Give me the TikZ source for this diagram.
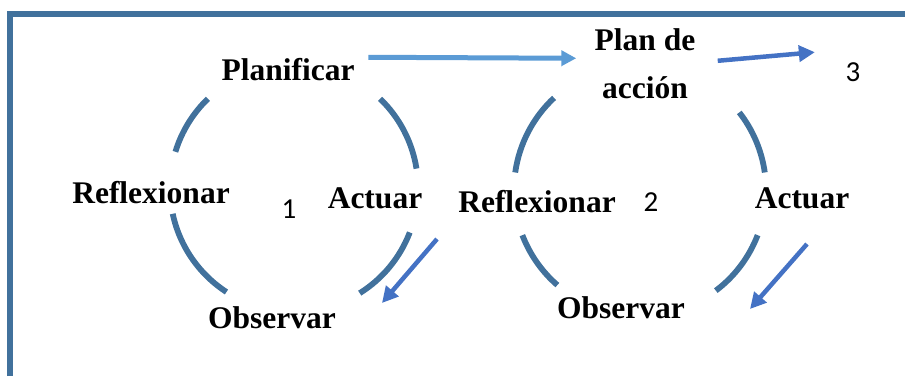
\documentclass[tikz,border=0pt]{standalone}
\usepackage{fontspec}
\setmainfont{Liberation Serif}
\newfontfamily\numfont{Carlito}
\usetikzlibrary{arrows.meta}
\definecolor{frameblue}{RGB}{65,113,156}
\definecolor{lightblue}{RGB}{91,155,213}
\definecolor{arrowblue}{RGB}{68,114,196}

\begin{document}
\begin{tikzpicture}[
    x=0.5pt, y=0.5pt,
    stage/.style={inner sep=0pt, anchor=base, align=center, font=\fontsize{15.75}{24}\selectfont\bfseries},
    num/.style={inner sep=0pt, anchor=base, font=\fontsize{14.5}{16}\selectfont\numfont},
    ring/.style={frameblue, line width=2.9pt},
    frame/.style={frameblue, line width=2.75pt},
    arrowL/.style={-{Triangle[length=7.5pt,width=7.5pt]}, line width=2.5pt, lightblue},
    arrow/.style={-{Triangle[length=8pt,width=8pt]}, line width=2.25pt, arrowblue}
]
    \useasboundingbox (0,0) rectangle (905,376);

    % Frame (top and left sides)
    \draw[frame] (9.8,0) |- (905,362.2);

    % Cycle 1
    \coordinate (o1) at (294,188);
    \foreach \a/\b in {134/163, 9/46, 192/237, 302/339} {
        \draw[ring] ([shift={(\a:124)}]o1) arc[start angle=\a, end angle=\b, radius=124];
    }

    % Cycle 2
    \coordinate (o2) at (640,186);
    \foreach \a/\b in {133/172, 8/38, 201/229, 307/339} {
        \draw[ring] ([shift={(\a:126)}]o2) arc[start angle=\a, end angle=\b, radius=126];
    }

    % Stages of cycle 1
    \node[stage] (planif) at (288,296) {Planificar};
    \node[stage] (refl1) at (151,173) {Reflexionar};
    \node[stage] (actuar1) at (375,168) {Actuar};
    \node[stage] (obs1) at (272,48) {Observar};
    \node[num] (n1) at (289,158) {1};

    % Stages of cycle 2
    \node[stage, anchor=north] (plan) at (645,347.3) {Plan de\\acción};
    \node[stage] (refl2) at (537,164) {Reflexionar};
    \node[stage] (actuar2) at (802,168) {Actuar};
    \node[stage] (obs2) at (621,58) {Observar};
    \node[num] (n2) at (651,165) {2};
    \node[num] (n3) at (853,295) {3};

    % Arrows
    \draw[arrowL] ([shift={(13.5,11.8)}]planif.east) -- ([shift={(-18,5.9)}]plan.west);
    \draw[arrow] ([shift={(22,3.4)}]plan.east) -- ([shift={(-30.4,19.5)}]n3.west);

    \coordinate (d1s) at (437,137);
    \coordinate (d1e) at (382,73);
    \coordinate (d2s) at (807,132);
    \coordinate (d2e) at (750,67);
    \draw[arrow] (d1s) -- (d1e);
    \draw[arrow] (d2s) -- (d2e);

\end{tikzpicture}
\end{document}
